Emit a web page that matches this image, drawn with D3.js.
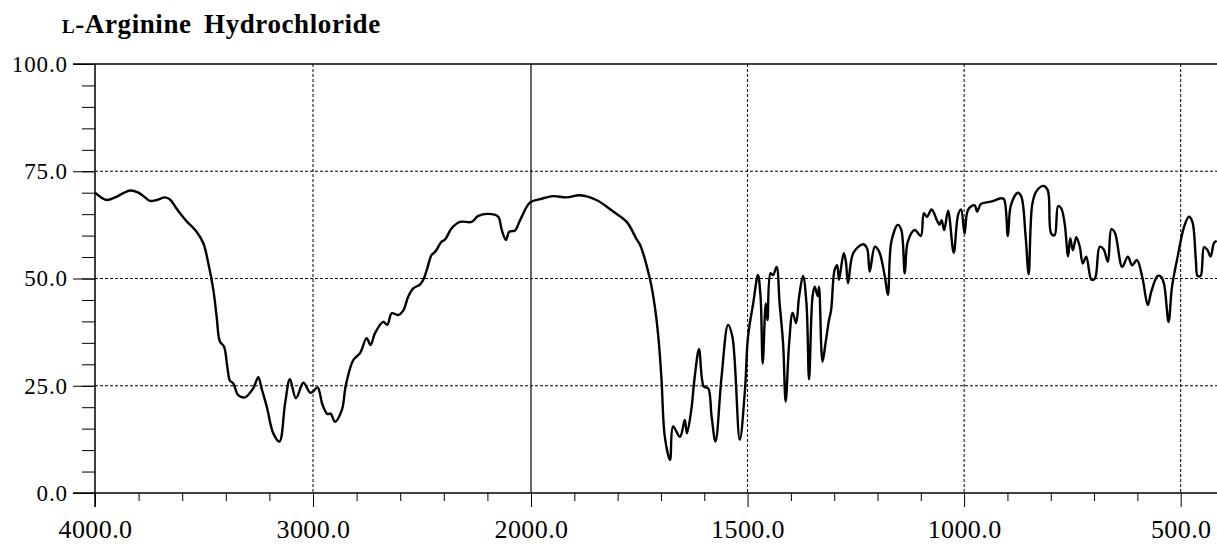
<!DOCTYPE html>
<html lang="en">
<head>
    <meta charset="utf-8" />
    <script src="https://d3js.org/d3.v7.min.js"></script>
    <style>
        body {
            margin: 0;
            background: #fff;
        }

        text {
            font-family: "Liberation Serif", "Times New Roman", serif;
            fill: #000;
        }
    </style>
</head>
<body>
    <script>
        var width = 1217, height = 546;

        // spectrum (cm-1 / %T)
        var wavenumbers = [
            4000, 3975, 3946, 3908, 3870, 3839, 3801, 3770, 3748, 3717, 3679, 3656, 3630, 3610, 3579, 3534,
            3503, 3480, 3457, 3442, 3427, 3408, 3393, 3381, 3366, 3343, 3312, 3274, 3251, 3236, 3212, 3182,
            3154, 3128, 3106, 3078, 3044, 3014, 3001, 2979, 2956, 2934, 2919, 2899, 2868, 2849, 2815, 2784,
            2754, 2736, 2716, 2678, 2659, 2639, 2609, 2586, 2563, 2540, 2509, 2494, 2475, 2456, 2440, 2410,
            2394, 2364, 2326, 2272, 2242, 2180, 2150, 2134, 2115, 2100, 2073, 2050, 2005, 1979, 1949, 1918,
            1887, 1849, 1810, 1779, 1756, 1748, 1725, 1714, 1706, 1699, 1691, 1679, 1672, 1656, 1645, 1640,
            1630, 1622, 1612, 1601, 1591, 1583, 1574, 1560, 1545, 1535, 1518, 1506, 1499, 1487, 1476, 1470,
            1465, 1458, 1454, 1447, 1441, 1433, 1426, 1418, 1412, 1404, 1396, 1388, 1381, 1372, 1364, 1358,
            1350, 1345, 1338, 1335, 1327, 1320, 1312, 1307, 1299, 1293, 1289, 1278, 1273, 1268, 1256, 1233,
            1224, 1218, 1206, 1196, 1183, 1176, 1168, 1153, 1145, 1137, 1130, 1114, 1100, 1093, 1086, 1075,
            1063, 1057, 1052, 1046, 1037, 1024, 1014, 1007, 999, 991, 976, 970, 961, 938, 915, 908,
            899, 892, 876, 868, 858, 851, 843, 834, 817, 807, 799, 791, 783, 776, 768, 760,
            755, 749, 741, 733, 726, 718, 706, 698, 687, 678, 668, 660, 652, 635, 622, 612,
            601, 588, 576, 568, 553, 545, 538, 528, 520, 507, 492, 481, 473, 465, 461, 454,
            446, 438, 431, 423, 417
        ];
        var transmittance = [
            70.0, 69.0, 68.3, 68.9, 69.9, 70.5, 70.0, 68.9, 68.1, 68.3, 68.9, 68.4, 66.6, 65.2, 63.3, 60.9,
            58.2, 53.5, 47.3, 41.1, 35.3, 34.1, 29.4, 26.2, 25.6, 22.8, 22.3, 24.4, 27.0, 24.4, 20.1, 13.9,
            12.0, 20.9, 26.5, 22.1, 25.7, 23.4, 23.6, 24.6, 20.5, 18.4, 18.5, 16.6, 19.3, 25.2, 31.0, 32.6,
            36.1, 34.5, 37.2, 39.9, 39.2, 41.9, 41.5, 42.5, 45.8, 47.7, 48.6, 49.7, 52.5, 55.5, 56.2, 58.6,
            59.1, 61.7, 63.2, 63.2, 64.6, 65.0, 64.4, 61.3, 59.0, 60.9, 61.2, 63.6, 67.7, 68.5, 69.2, 68.9,
            69.4, 68.3, 65.6, 63.2, 59.1, 57.8, 49.7, 43.4, 36.4, 27.1, 13.1, 7.7, 15.5, 13.1, 17.0, 13.9,
            19.3, 27.1, 33.5, 24.8, 24.4, 17.8, 12.0, 27.1, 39.2, 36.4, 12.4, 24.0, 36.4, 44.2, 50.8, 45.8,
            30.2, 44.2, 40.3, 51.2, 50.8, 52.7, 44.2, 34.9, 21.3, 34.9, 42.0, 39.6, 45.8, 50.6, 44.2, 26.5,
            45.8, 48.1, 45.9, 48.1, 30.6, 34.9, 40.3, 42.7, 52.0, 53.1, 49.7, 55.9, 53.9, 48.9, 55.9, 58.0,
            57.0, 51.6, 57.4, 56.2, 50.4, 46.2, 58.6, 62.5, 61.3, 51.2, 58.6, 61.3, 59.9, 65.2, 64.4, 66.1,
            63.6, 62.5, 63.6, 61.3, 65.8, 56.0, 64.8, 66.1, 60.5, 66.0, 67.1, 65.6, 67.4, 67.9, 68.7, 68.5,
            59.9, 67.1, 70.0, 69.1, 59.8, 51.0, 67.1, 70.2, 71.6, 70.6, 60.5, 60.1, 66.9, 66.4, 62.9, 55.2,
            59.4, 56.6, 59.6, 57.4, 53.5, 55.1, 49.7, 50.0, 57.4, 56.8, 53.9, 61.5, 60.7, 52.7, 55.1, 53.1,
            54.3, 50.0, 43.8, 46.9, 50.6, 50.4, 48.5, 39.9, 48.1, 55.1, 62.1, 64.4, 63.2, 54.3, 50.6, 50.6,
            57.3, 56.6, 55.1, 58.3, 58.8
        ];

        var xMajorTicks = [4000, 3000, 2000, 1500, 1000, 500];
        var xMinorTicks = [3800, 3600, 3400, 3200, 2800, 2600, 2400, 2200,
            1900, 1800, 1700, 1600, 1400, 1300, 1200, 1100, 900, 800, 700, 600];
        var yMajorTicks = [0, 25, 50, 75, 100];
        var yMinorTicks = d3.range(0, 101, 5);
        var dashedX = [3000, 1500, 1000, 500];
        var dashedY = [25, 50, 75];

        var plotLeft = 95, plotTop = 64, plotBottom = 493;

        var svg = d3.select("body").append("svg")
            .attr("width", width)
            .attr("height", height);

        // the axis changes scale at 2000 cm-1 (right half is twice as wide)
        var x = d3.scaleLinear()
            .domain([4000, 2000, 400])
            .range([plotLeft, 531, 1224]);

        var y = d3.scaleLinear()
            .domain([0, 100])
            .range([plotBottom, plotTop]);

        var fmt = d3.format(".1f");

        // title, with small-caps L
        var title = svg.append("text")
            .attr("x", 62)
            .attr("y", 33)
            .style("font-weight", "bold")
            .style("font-size", "27px")
            .style("letter-spacing", "0.6px")
            .style("word-spacing", "5px");
        title.append("tspan").style("font-size", "19px").text("L");
        title.append("tspan").text("-Arginine Hydrochloride");

        // dashed grid
        svg.append("g").selectAll("line")
            .data(dashedY)
            .join("line")
            .attr("x1", plotLeft).attr("x2", width)
            .attr("y1", function(d) { return y(d); })
            .attr("y2", function(d) { return y(d); })
            .attr("stroke", "#000")
            .attr("stroke-width", 1)
            .attr("stroke-dasharray", "3,2");

        svg.append("g").selectAll("line")
            .data(dashedX)
            .join("line")
            .attr("x1", function(d) { return x(d); })
            .attr("x2", function(d) { return x(d); })
            .attr("y1", plotTop).attr("y2", plotBottom)
            .attr("stroke", "#000")
            .attr("stroke-width", 1)
            .attr("stroke-dasharray", "3,2");

        // solid line at 2000
        svg.append("line")
            .attr("x1", x(2000)).attr("x2", x(2000))
            .attr("y1", plotTop).attr("y2", plotBottom)
            .attr("stroke", "#000")
            .attr("stroke-width", 1.2);

        // top frame
        svg.append("line")
            .attr("x1", 73).attr("x2", width)
            .attr("y1", plotTop).attr("y2", plotTop)
            .attr("stroke", "#000")
            .attr("stroke-width", 1.5);

        // x axis
        var xAxisMinor = d3.axisBottom(x).tickValues(xMinorTicks).tickSize(8).tickFormat("");
        var xAxisMajor = d3.axisBottom(x).tickValues(xMajorTicks).tickSize(14).tickPadding(13).tickFormat(fmt);

        svg.append("g")
            .attr("transform", "translate(0," + plotBottom + ")")
            .call(xAxisMinor)
            .call(function(g) { g.select(".domain").remove(); });

        var gx = svg.append("g")
            .attr("transform", "translate(0," + plotBottom + ")")
            .call(xAxisMajor);
        gx.select(".domain").remove();
        gx.selectAll("text")
            .style("font-size", "26px")
            .style("letter-spacing", "0.4px")
            .style("font-family", "'Liberation Serif', serif");

        svg.append("line")
            .attr("x1", 73).attr("x2", width)
            .attr("y1", plotBottom).attr("y2", plotBottom)
            .attr("stroke", "#000")
            .attr("stroke-width", 1.5);

        // y axis
        var yAxisMinor = d3.axisLeft(y).tickValues(yMinorTicks).tickSize(13).tickFormat("");
        var yAxisMajor = d3.axisLeft(y).tickValues(yMajorTicks).tickSize(22).tickPadding(5).tickFormat(fmt);

        svg.append("g")
            .attr("transform", "translate(" + plotLeft + ",0)")
            .call(yAxisMinor)
            .call(function(g) { g.select(".domain").remove(); });

        var gy = svg.append("g")
            .attr("transform", "translate(" + plotLeft + ",0)")
            .call(yAxisMajor);
        gy.select(".domain").remove();
        gy.selectAll("text")
            .style("font-size", "23px")
            .style("letter-spacing", "0.9px")
            .style("font-family", "'Liberation Serif', serif");

        svg.append("line")
            .attr("x1", plotLeft).attr("x2", plotLeft)
            .attr("y1", plotTop).attr("y2", plotBottom + 14)
            .attr("stroke", "#000")
            .attr("stroke-width", 1.5);

        // spectrum
        var points = wavenumbers.map(function(w, i) { return [w, transmittance[i]]; });

        var line = d3.line()
            .x(function(d) { return x(d[0]); })
            .y(function(d) { return y(d[1]); })
            .curve(d3.curveCatmullRom.alpha(0.5));

        svg.append("path")
            .datum(points)
            .attr("d", line)
            .attr("fill", "none")
            .attr("stroke", "#000")
            .attr("stroke-width", 2.4)
            .attr("stroke-linejoin", "round");
    </script>
</body>
</html>
